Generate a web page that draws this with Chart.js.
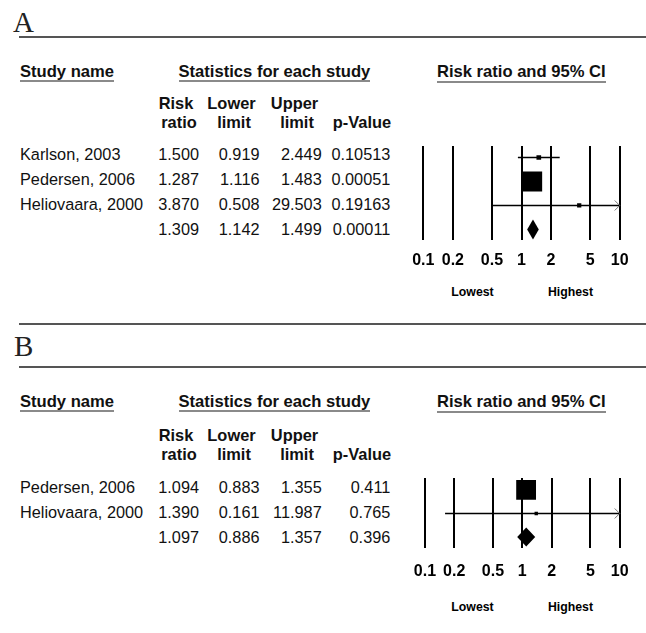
<!DOCTYPE html>
<html><head><meta charset="utf-8">
<script src="https://cdn.jsdelivr.net/npm/chart.js@4.4.1/dist/chart.umd.min.js"></script>
<style>
html,body{margin:0;padding:0;background:#fff;}
body{width:646px;height:633px;position:relative;overflow:hidden;font-family:"Liberation Sans",Arial,sans-serif;color:#111;}
.t{position:absolute;white-space:nowrap;line-height:20px;height:20px;}
.rule{position:absolute;height:2px;background:#555;}
.ul{position:absolute;height:2px;background:#8a8a8a;}
canvas{position:absolute;}
</style></head><body>
<script>
// ---------- data ----------
const tickValues = [0.1, 0.2, 0.5, 1, 2, 5, 10];
const scaleLabels = ["Lowest", "Highest"];
const columnHeaders = [["Risk", "ratio"], ["Lower", "limit"], ["Upper", "limit"], ["", "p-Value"]];

const studiesA   = ["Karlson, 2003", "Pedersen, 2006", "Heliovaara, 2000"];
const riskRatioA = [1.500, 1.287, 3.870];
const lowerA     = [0.919, 1.116, 0.508];
const upperA     = [2.449, 1.483, 29.503];
const pValueA    = [0.10513, 0.00051, 0.19163];
const summaryA   = [1.309, 1.142, 1.499];   // risk ratio, lower, upper
const summaryPA  = 0.00011;

const studiesB   = ["Pedersen, 2006", "Heliovaara, 2000"];
const riskRatioB = [1.094, 1.390];
const lowerB     = [0.883, 0.161];
const upperB     = [1.355, 11.987];
const pValueB    = [0.411, 0.765];
const summaryB   = [1.097, 0.886, 1.357];
const summaryPB  = 0.396;

// ---------- helpers ----------
const W = 646;
function txt(s, x, y, align, font, color) {
  const d = document.createElement('div');
  d.className = 't';
  d.textContent = s;
  d.style.top = (y - 10) + 'px';
  d.style.font = font;
  d.style.lineHeight = '20px';
  if (color) d.style.color = color;
  if (align === 'right') { d.style.right = (W - x) + 'px'; }
  else if (align === 'center') { d.style.left = x + 'px'; d.style.transform = 'translateX(-50%)'; }
  else { d.style.left = x + 'px'; }
  document.body.appendChild(d);
  return d;
}
function underline(d, y) {
  const r = d.getBoundingClientRect();
  const u = document.createElement('div');
  u.className = 'ul';
  u.style.left = r.left + 'px';
  u.style.width = r.width + 'px';
  u.style.top = y + 'px';
  document.body.appendChild(u);
}
function rule(y) {
  const r = document.createElement('div');
  r.className = 'rule';
  r.style.left = '19px';
  r.style.width = (W - 19) + 'px';
  r.style.top = (y - 1) + 'px';
  document.body.appendChild(r);
}

const FONT = '"Liberation Sans", Arial, sans-serif';
const bodyFont = '16.3px ' + FONT;
const headFont = 'bold 16.6px ' + FONT;
const colFont = 'bold 16.4px ' + FONT;
const smallBold = 'bold 12.3px ' + FONT;
const letterFont = '29px "Liberation Serif", "Times New Roman", serif';
const TICK_SIZE = 16;

const colCenters = [[176, 179], [231.5, 234], [294.5, 297], [362, 362]];
const colRight = [199, 259.5, 321.7, 390.3];

const forestExtras = {
  id: 'forestExtras',
  afterDatasetsDraw(chart, args, opts) {
    const ctx = chart.ctx, xs = chart.scales.x, ys = chart.scales.y;
    // diamond for the summary
    const s = opts.summary, row = opts.summaryRow, h = opts.halfHeight;
    const yc = ys.getPixelForValue(row);
    ctx.save();
    ctx.fillStyle = '#000';
    ctx.beginPath();
    ctx.moveTo(xs.getPixelForValue(s[1]), yc);
    ctx.lineTo(xs.getPixelForValue(s[0]), yc - h);
    ctx.lineTo(xs.getPixelForValue(s[2]), yc);
    ctx.lineTo(xs.getPixelForValue(s[0]), yc + h);
    ctx.closePath();
    ctx.fill();
    // arrows where the interval runs off the axis
    ctx.strokeStyle = '#777';
    ctx.lineWidth = 1;
    opts.upper.forEach((u, i) => {
      if (u > xs.max) {
        const xp = xs.getPixelForValue(xs.max), yp = ys.getPixelForValue(i);
        ctx.beginPath();
        ctx.moveTo(xp - 5, yp - 5); ctx.lineTo(xp, yp); ctx.lineTo(xp - 5, yp + 5);
        ctx.stroke();
      }
    });
    ctx.restore();
  }
};

function panel(p) {
  // rules and letter
  p.rules.forEach(rule);
  txt(p.letter, p.letterX, p.letterY, 'left', letterFont, '#222');
  // headers
  underline(txt('Study name', 20, p.headY, 'left', headFont), p.headY + 8.5);
  underline(txt('Statistics for each study', 178.5, p.headY, 'left', headFont), p.headY + 8.5);
  underline(txt('Risk ratio and 95% CI', 521.3, p.headY, 'center', headFont), p.headY + 9.5);
  columnHeaders.forEach((pair, c) => {
    if (pair[0]) txt(pair[0], colCenters[c][0], p.colY[0], 'center', colFont);
    txt(pair[1], colCenters[c][1], p.colY[1], 'center', colFont);
  });
  // rows
  const n = p.names.length;
  for (let i = 0; i <= n; i++) {
    const y = p.rowY[i];
    const vals = i < n ? [p.rr[i], p.lo[i], p.hi[i]] : p.sum;
    const pv = i < n ? p.pv[i] : p.sumP;
    if (i < n) txt(p.names[i], 20, y, 'left', bodyFont);
    vals.forEach((v, c) => txt(v.toFixed(3), colRight[c], y, 'right', bodyFont));
    txt(pv.toFixed(p.pDec), colRight[3], y, 'right', bodyFont);
  }
  txt(scaleLabels[0], 472.5, p.labelY, 'center', smallBold, '#000');
  txt(scaleLabels[1], 570.5, p.labelY, 'center', smallBold, '#000');

  // chart
  const padTop = 10, axisH = 40;
  const cv = document.createElement('canvas');
  const ch = padTop + (p.plotBottom - p.plotTop) + axisH;
  cv.width = 246; cv.height = Math.round(ch);
  cv.style.left = '400px'; cv.style.top = (p.plotTop - padTop) + 'px';
  cv.style.width = '246px'; cv.style.height = Math.round(ch) + 'px';
  document.body.appendChild(cv);
  const bottomPad = Math.round(ch) - ch;

  const datasets = [{
    type: 'scatter',
    order: 0,
    data: p.rr.map((v, i) => ({ x: v, y: i })),
    pointStyle: 'rect',
    pointRadius: p.markerRadius,
    pointHoverRadius: p.markerRadius,
    backgroundColor: '#000',
    borderColor: '#000',
    borderWidth: 0
  }];
  p.lo.forEach((l, i) => datasets.push({
    type: 'line',
    order: 1,
    data: [{ x: l, y: i }, { x: p.hi[i], y: i }],
    borderColor: '#000',
    borderWidth: 1.6,
    pointRadius: 0,
    fill: false
  }));

  new Chart(cv, {
    type: 'scatter',
    data: { datasets },
    options: {
      responsive: false,
      animation: false,
      devicePixelRatio: 1,
      layout: { padding: { left: 23.3, right: 26.3, top: padTop, bottom: bottomPad } },
      plugins: {
        legend: { display: false },
        tooltip: { enabled: false },
        forestExtras: { summary: p.sum, summaryRow: n, halfHeight: p.diamondH, upper: p.hi }
      },
      scales: {
        x: {
          type: 'logarithmic',
          position: 'bottom',
          min: tickValues[0],
          max: tickValues[tickValues.length - 1],
          afterBuildTicks: s => { s.ticks = tickValues.map(v => ({ value: v })); },
          afterFit: s => { s.height = axisH; },
          grid: { color: '#000', lineWidth: 2, drawTicks: false },
          border: { display: false },
          ticks: {
            autoSkip: false, maxRotation: 0, minRotation: 0,
            padding: p.tickY - p.plotBottom - TICK_SIZE * 0.6,
            color: '#000',
            font: { family: FONT, size: TICK_SIZE, weight: 'bold' },
            callback: v => String(v)
          }
        },
        y: { type: 'linear', display: false, reverse: true, min: p.yMin, max: p.yMax }
      }
    },
    plugins: [forestExtras]
  });
}

panel({
  rules: [36.7], letter: 'A', letterX: 13, letterY: 22,
  headY: 71.7, colY: [103.3, 122.2], rowY: [154.3, 179, 204, 229.3],
  names: studiesA, rr: riskRatioA, lo: lowerA, hi: upperA, pv: pValueA, sum: summaryA, sumP: summaryPA, pDec: 5,
  labelY: 292.3, plotTop: 142, plotBottom: 240, yMin: -0.48, yMax: 3.44, tickY: 260.7,
  markerRadius: [3.3, 14, 3.0], diamondH: 10
});
panel({
  rules: [324, 367.3], letter: 'B', letterX: 14, letterY: 346,
  headY: 401.7, colY: [435, 454], rowY: [486.7, 511.7, 537.2],
  names: studiesB, rr: riskRatioB, lo: lowerB, hi: upperB, pv: pValueB, sum: summaryB, sumP: summaryPB, pDec: 3,
  labelY: 606.7, plotTop: 474.3, plotBottom: 548.3, yMin: -0.5, yMax: 2.46, tickY: 571.7,
  markerRadius: [14, 2.4], diamondH: 9.5
});
</script>
</body></html>
